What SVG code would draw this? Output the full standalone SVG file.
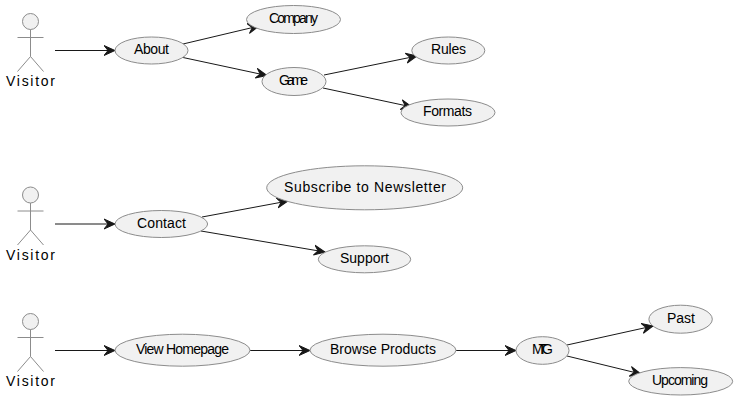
<svg xmlns="http://www.w3.org/2000/svg" width="738" height="401" viewBox="0 0 738 401">
<style>
text{font-family:"Liberation Sans",Arial,sans-serif;font-size:14px;fill:#000}
.uc{fill:#f1f1f1;stroke:#8c8c8c;stroke-width:1}
.ac{fill:none;stroke:#8c8c8c;stroke-width:1}
.head{fill:#f1f1f1;stroke:#8c8c8c;stroke-width:1}
#connectors path{fill:none;stroke:#181818;stroke-width:1;marker-end:url(#arr)}
</style>
<defs>
<marker id="arr" markerUnits="userSpaceOnUse" markerWidth="14" markerHeight="12" refX="11" refY="5" orient="auto" viewBox="0 0 14 10"><path d="M0 0L11 5L0 10L4 5Z" fill="#181818" stroke="#181818" stroke-width="1"/></marker>
<g id="actor"><circle class="head" cx="30.5" cy="21.5" r="8"/><path class="ac" d="M30.5 29.5V56.5M17.5 37.5H43.5M30.5 56.5L17.5 71.5M30.5 56.5L43.5 71.5"/></g>
</defs>
<g id="connectors">
<path d="M55 50.5H115"/>
<path d="M183 44L259 26"/>
<path d="M183 57.5L267 75.5"/>
<path d="M324 75L417 56"/>
<path d="M323 88L412 107"/>
<path d="M55 224H115"/>
<path d="M202 217L288 201"/>
<path d="M201 231L325 252"/>
<path d="M55 350.5H115"/>
<path d="M250 350.5H310"/>
<path d="M456 350.5H516"/>
<path d="M567 345L653 326"/>
<path d="M567 356L641 374"/>
</g>
<g id="actor1"><use href="#actor"/><text x="6" y="86" textLength="49" lengthAdjust="spacing">Visitor</text></g>
<g id="actor2"><use href="#actor" y="173.5"/><text x="6" y="259.5" textLength="49" lengthAdjust="spacing">Visitor</text></g>
<g id="actor3"><use href="#actor" y="300"/><text x="6" y="386" textLength="49" lengthAdjust="spacing">Visitor</text></g>
<g id="about"><ellipse class="uc" cx="151.5" cy="50.5" rx="36.5" ry="13.5"/><text x="134" y="54" textLength="35" lengthAdjust="spacing">About</text></g>
<g id="company"><ellipse class="uc" cx="293.5" cy="19.5" rx="47" ry="14"/><text x="269" y="23" textLength="49" lengthAdjust="spacing">Company</text></g>
<g id="game"><ellipse class="uc" cx="294" cy="81.5" rx="32" ry="14"/><text x="279" y="85" textLength="29" lengthAdjust="spacing">Game</text></g>
<g id="rules"><ellipse class="uc" cx="448.3" cy="50.5" rx="36.5" ry="13.5"/><text x="431" y="54" textLength="35" lengthAdjust="spacing">Rules</text></g>
<g id="formats"><ellipse class="uc" cx="448" cy="112.5" rx="47" ry="13.5"/><text x="423" y="116" textLength="49" lengthAdjust="spacing">Formats</text></g>
<g id="contact"><ellipse class="uc" cx="161.3" cy="224" rx="46.3" ry="13.5"/><text x="137" y="228" textLength="49" lengthAdjust="spacing">Contact</text></g>
<g id="subscribe"><ellipse class="uc" cx="364.7" cy="187.8" rx="98" ry="22"/><text x="284" y="192" textLength="162" lengthAdjust="spacing">Subscribe to Newsletter</text></g>
<g id="support"><ellipse class="uc" cx="364.5" cy="259.3" rx="46.2" ry="13.5"/><text x="340" y="263" textLength="49" lengthAdjust="spacing">Support</text></g>
<g id="homepage"><ellipse class="uc" cx="182.5" cy="350.2" rx="67.5" ry="16"/><text x="136" y="354" textLength="93" lengthAdjust="spacing">View Homepage</text></g>
<g id="browse"><ellipse class="uc" cx="383" cy="350.2" rx="73" ry="16"/><text x="330" y="354" textLength="106" lengthAdjust="spacing">Browse Products</text></g>
<g id="mtg"><ellipse class="uc" cx="542.5" cy="350.5" rx="26.5" ry="13.8"/><text x="532" y="354" textLength="21" lengthAdjust="spacing">MTG</text></g>
<g id="past"><ellipse class="uc" cx="680.6" cy="319.2" rx="31.7" ry="14"/><text x="667" y="323" textLength="28" lengthAdjust="spacing">Past</text></g>
<g id="upcoming"><ellipse class="uc" cx="680.7" cy="381.3" rx="52" ry="13.7"/><text x="652" y="385" textLength="56" lengthAdjust="spacing">Upcoming</text></g>
</svg>
